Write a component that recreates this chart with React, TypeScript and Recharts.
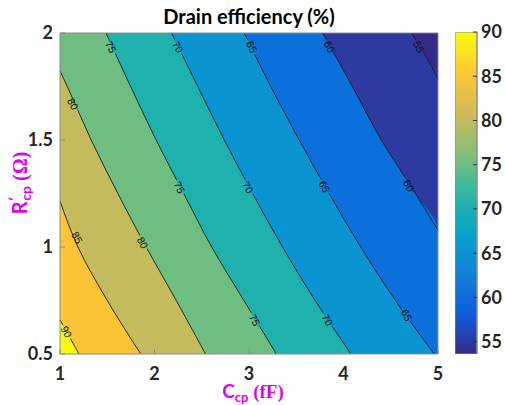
import React from "react";
import { ComposedChart, Area, Line, Scatter, XAxis, YAxis, BarChart, Bar } from "recharts";

const C_TICKS = [1, 2, 3, 4, 5];
const R_TICKS = [0.5, 1, 1.5, 2];
const BAR_TICKS = [55, 60, 65, 70, 75, 80, 85, 90];
const LEVELS = [55, 60, 65, 70, 75, 80, 85, 90];

// contour lines: r = R'cp (ohm), c = Ccp (fF)
const contour55 = [{ r: 1.786, c: 5 }, { r: 1.9, c: 4.86 }, { r: 2, c: 4.72 }];
const contour60 = [{ r: 1.078, c: 5 }, { r: 1.25, c: 4.762 }, { r: 1.5, c: 4.4 }, { r: 1.75, c: 4.094 }, { r: 2, c: 3.78 }];
const contour65 = [{ r: 0.5, c: 4.96 }, { r: 0.75, c: 4.55 }, { r: 1, c: 4.182 }, { r: 1.25, c: 3.848 }, { r: 1.5, c: 3.531 }, { r: 1.75, c: 3.23 }, { r: 2, c: 2.95 }];
const contour70 = [{ r: 0.5, c: 4.08 }, { r: 0.75, c: 3.7 }, { r: 1, c: 3.355 }, { r: 1.25, c: 3.038 }, { r: 1.5, c: 2.739 }, { r: 1.75, c: 2.458 }, { r: 2, c: 2.18 }];
const contour75 = [{ r: 0.5, c: 3.29 }, { r: 0.75, c: 2.946 }, { r: 1, c: 2.605 }, { r: 1.25, c: 2.309 }, { r: 1.5, c: 2.017 }, { r: 1.75, c: 1.747 }, { r: 2, c: 1.486 }];
const contour80 = [{ r: 0.5, c: 2.54 }, { r: 0.75, c: 2.23 }, { r: 1, c: 1.911 }, { r: 1.25, c: 1.612 }, { r: 1.5, c: 1.33 }, { r: 1.75, c: 1.077 }, { r: 1.823, c: 1 }];
const contour85 = [{ r: 0.5, c: 1.855 }, { r: 0.75, c: 1.5 }, { r: 1, c: 1.19 }, { r: 1.214, c: 1 }];
const contour90 = [{ r: 0.5, c: 1.2 }, { r: 0.58, c: 1.1 }, { r: 0.659, c: 1 }];
const CONTOURS = [contour55, contour60, contour65, contour70, contour75, contour80, contour85, contour90];

const contourLabels = [
  { level: 55, r: 1.935, c: 4.8 },
  { level: 60, r: 1.935, c: 3.851 },
  { level: 65, r: 1.935, c: 3.03 },
  { level: 70, r: 1.935, c: 2.25 },
  { level: 75, r: 1.935, c: 1.54 },
  { level: 80, r: 1.669, c: 1.137 },
  { level: 85, r: 1.044, c: 1.183 },
  { level: 90, r: 0.604, c: 1.07 },
  { level: 80, r: 1.02, c: 1.875 },
  { level: 75, r: 1.279, c: 2.265 },
  { level: 70, r: 1.279, c: 2.99 },
  { level: 65, r: 1.283, c: 3.8 },
  { level: 60, r: 1.287, c: 4.69 },
  { level: 75, r: 0.659, c: 3.06 },
  { level: 70, r: 0.659, c: 3.83 },
  { level: 65, r: 0.682, c: 4.67 },
];

const plotBox = [{ r: 0.5, c: 5 }, { r: 2, c: 5 }];
const colorbarData = [{ k: "cb", v: 90 }];

// below 55, then one colour per band starting at each level
const BAND_COLORS = ["#352a87", "#2f39a2", "#0b6fdc", "#0a95d2", "#1eb1ae", "#6ebe82", "#c4bb5e", "#fbc434", "#f9fb0e"];
const PARULA = ["#352a87", "#0f5cdd", "#1481d6", "#06a4ca", "#2eb7a4", "#87bf77", "#d1bb59", "#fec832", "#f9fb0e"];

const FONT = "Lato, 'Liberation Sans', sans-serif";
const AXIS_GRAY = "#8c8c8c";
const tickStyle = { fontSize: 18, fontWeight: 700, fill: "#262626", fontFamily: FONT };
const noTick = () => <g />;

// region left of a contour; contours leaving through the right edge run down that edge
const fillData = (pts: { r: number; c: number }[]) => (pts[0].c === 5 && pts[0].r > 0.5 ? [{ r: 0.5, c: 5 }, ...pts] : pts);

// label sits in a gap of its contour line: patch both sides with the band colours
const LevelText = (props: any) => {
  const { cx, cy, payload } = props;
  const i = LEVELS.indexOf(payload.level);
  return (
    <g transform={`rotate(62 ${cx} ${cy})`}>
      <rect x={cx - 8} y={cy - 1.6} width={16} height={1.6} fill={BAND_COLORS[i]} />
      <rect x={cx - 8} y={cy} width={16} height={1.6} fill={BAND_COLORS[i + 1]} />
      <text x={cx} y={cy} textAnchor="middle" dominantBaseline="central"
        fontSize={10.5} fontFamily="'Liberation Sans', sans-serif" fill="#111">
        {payload.level}
      </text>
    </g>
  );
};

const Title = (props: any) => {
  const vb = props.viewBox;
  return (
    <text x={vb.x + vb.width / 2} y={24} textAnchor="middle" fill="#000" fontWeight={700} fontSize={20} fontFamily={FONT}>
      Drain efficiency (%)
    </text>
  );
};

const XTitle = (props: any) => {
  const vb = props.viewBox;
  return (
    <text x={vb.x + vb.width / 2 + 4} y={vb.y + 44} textAnchor="middle" fill="#e000f0" fontWeight={700} fontSize={19} fontFamily={FONT}>
      C<tspan fontSize={13} dy={4}>cp</tspan>
      <tspan dy={-4} fontFamily="'Liberation Serif', serif"> (fF)</tspan>
    </text>
  );
};

const YTitle = () => {
  const x = 27;
  const y = 183;
  return (
    <text x={x} y={y} transform={`rotate(-90 ${x} ${y})`} textAnchor="middle" fill="#e000f0" fontWeight={700} fontSize={20} fontFamily={FONT}>
      R<tspan fontSize={14} dy={-8}>′</tspan>
      <tspan fontSize={14} dx={-4} dy={12}>cp</tspan>
      <tspan dy={-4} fontFamily="'Liberation Serif', serif"> (Ω)</tspan>
    </text>
  );
};

export default function App() {
  return (
    <div style={{ position: "absolute", left: 0, top: 0, width: 505, height: 405, background: "#fff" }}>
      <div style={{ position: "absolute", left: 0, top: 0 }}>
        <ComposedChart width={505} height={405} layout="vertical" margin={{ top: 32, right: 66, bottom: 0, left: 0 }}>
          <XAxis type="number" dataKey="c" domain={[1, 5]} ticks={C_TICKS} height={51} tickSize={-5} tickMargin={18}
            tick={tickStyle} axisLine={{ stroke: AXIS_GRAY }} tickLine={{ stroke: AXIS_GRAY }} label={{ content: XTitle }} />
          <XAxis xAxisId="top" orientation="top" type="number" dataKey="c" domain={[1, 5]} ticks={C_TICKS} height={1}
            tickSize={-5} tick={noTick} axisLine={{ stroke: AXIS_GRAY }} tickLine={{ stroke: AXIS_GRAY }} label={{ content: Title }} />
          <YAxis type="number" dataKey="r" domain={[0.5, 2]} ticks={R_TICKS} width={60} tickSize={-5} tickMargin={12} reversed
            tick={tickStyle} axisLine={{ stroke: AXIS_GRAY }} tickLine={{ stroke: AXIS_GRAY }} label={{ content: YTitle }} />
          <YAxis yAxisId="right" orientation="right" type="number" dataKey="r" domain={[0.5, 2]} ticks={R_TICKS} width={1} reversed
            tickSize={-5} tick={noTick} axisLine={{ stroke: AXIS_GRAY }} tickLine={{ stroke: AXIS_GRAY }} />

          <Area data={plotBox} dataKey="c" type="linear" fill={BAND_COLORS[0]} fillOpacity={1} stroke="none" isAnimationActive={false} />
          {CONTOURS.map((pts, i) => (
            <Area key={`f${LEVELS[i]}`} data={fillData(pts)} dataKey="c" type="monotone" fill={BAND_COLORS[i + 1]}
              fillOpacity={1} stroke="none" isAnimationActive={false} />
          ))}
          {CONTOURS.map((pts, i) => (
            <Line key={`l${LEVELS[i]}`} data={pts} dataKey="c" type="monotone" stroke="#1a1a1a" strokeWidth={0.9}
              dot={false} activeDot={false} isAnimationActive={false} />
          ))}
          <Scatter data={contourLabels} dataKey="c" shape={LevelText} isAnimationActive={false} />
        </ComposedChart>
      </div>

      <div style={{ position: "absolute", left: 455, top: 0 }}>
        <BarChart width={52} height={405} data={colorbarData} margin={{ top: 32, right: 0, bottom: 51, left: 0 }} barCategoryGap={0}>
          <defs>
            <linearGradient id="parula" x1="0" y1="1" x2="0" y2="0">
              {PARULA.map((col, i) => (
                <stop key={col} offset={i / (PARULA.length - 1)} stopColor={col} />
              ))}
            </linearGradient>
          </defs>
          <XAxis dataKey="k" type="category" hide />
          <YAxis orientation="right" type="number" domain={[53.6, 90]} ticks={BAR_TICKS} width={30} tickSize={-4} tickMargin={8}
            tick={tickStyle} axisLine={{ stroke: AXIS_GRAY }} tickLine={{ stroke: "#333" }} allowDataOverflow />
          <Bar dataKey="v" fill="url(#parula)" stroke={AXIS_GRAY} strokeWidth={1} isAnimationActive={false} />
        </BarChart>
      </div>
    </div>
  );
}
